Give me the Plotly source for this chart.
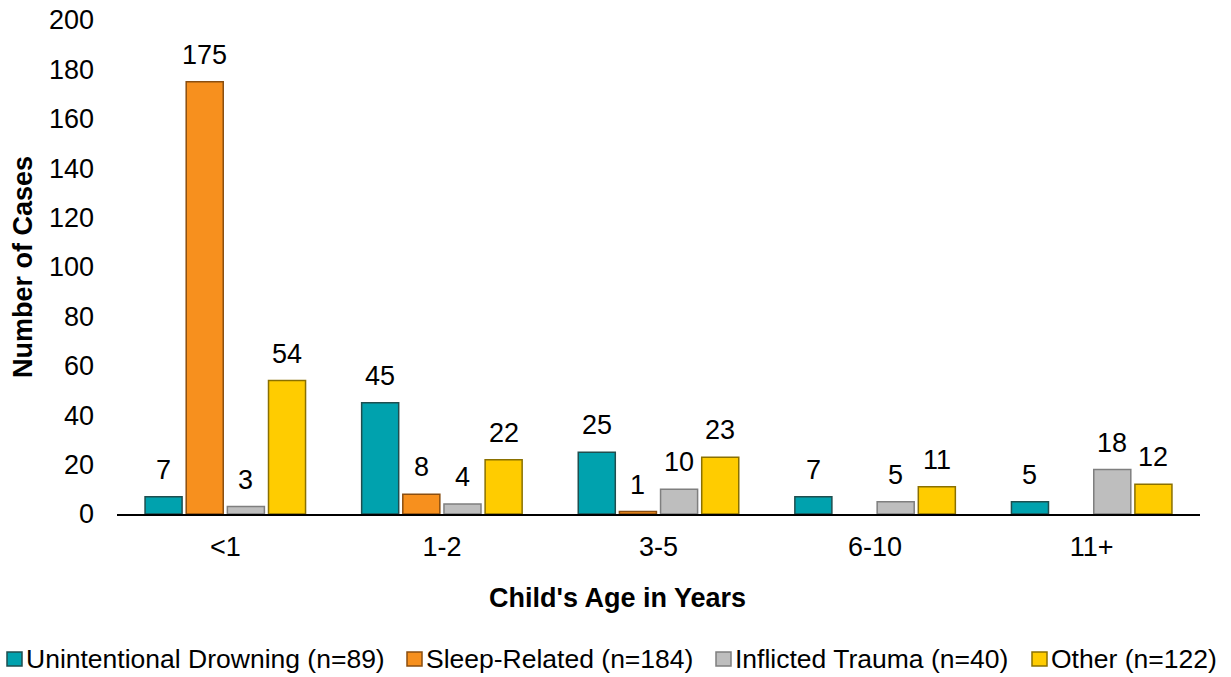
import plotly.graph_objects as go

ages = ["<1", "1-2", "3-5", "6-10", "11+"]
drowning = [7, 45, 25, 7, 5]
sleep = [175, 8, 1, None, None]
trauma = [3, 4, 10, 5, 18]
other = [54, 22, 23, 11, 12]

series = [
    ("Unintentional Drowning (n=89)", drowning, "#00A2AE", "#1F4E4F"),
    ("Sleep-Related (n=184)", sleep, "#F7901E", "#8A4E10"),
    ("Inflicted Trauma (n=40)", trauma, "#BEBEBE", "#7F7F7F"),
    ("Other (n=122)", other, "#FFCC00", "#8A7000"),
]

font = "Liberation Sans, Arial, sans-serif"
fs = 27
bargap = 0.24

# plot area in pixels (for placing the hand-made legend)
L, R, T, B = 117, 1200, 20, 514
W, H = R - L, B - T
slot = W / len(ages) * (1 - bargap) / len(series)


def px(x):
    return (x - L) / W


def py(y):
    return (B - y) / H


fig = go.Figure()
annotations = []
for i, (name, vals, color, edge) in enumerate(series):
    fig.add_trace(go.Bar(
        x=ages, y=vals, name=name,
        marker=dict(color=color, line=dict(color=edge, width=1.5)),
        cliponaxis=False,
        showlegend=False,
    ))
    # value labels sit a little higher above the bars than plotly's own text
    for a, v in zip(ages, vals):
        if v is None:
            continue
        annotations.append(dict(
            x=a, y=v, xref="x", yref="y", text=str(v),
            xshift=(i - 1.5) * slot, yshift=10,
            xanchor="center", yanchor="bottom", showarrow=False,
            font=dict(size=fs),
        ))

# legend drawn by hand so it stays on one row like the original
legend_x = [7, 407, 716, 1032]
shapes = []
for (name, _, color, edge), lx in zip(series, legend_x):
    shapes.append(dict(
        type="rect", xref="paper", yref="paper",
        x0=px(lx), x1=px(lx + 15), y0=py(652), y1=py(666),
        fillcolor=color, line=dict(color=edge, width=1.5),
    ))
    annotations.append(dict(
        text=name, xref="paper", yref="paper", x=px(lx + 17), y=py(659),
        xanchor="left", yanchor="middle", showarrow=False,
        font=dict(size=26.5),
    ))

annotations.append(dict(
    text="<b>Child's Age in Years</b>", xref="paper", yref="paper",
    x=px(617), y=py(598), xanchor="center", yanchor="middle",
    showarrow=False, font=dict(size=fs),
))

fig.update_layout(
    barmode="group",
    bargap=bargap,
    bargroupgap=0.1,
    width=1231, height=677,
    margin=dict(l=L, r=1231 - R, t=T, b=677 - B),
    plot_bgcolor="white",
    paper_bgcolor="white",
    font=dict(family=font, size=fs, color="#000000"),
    showlegend=False,
    shapes=shapes,
    annotations=annotations,
)
fig.update_xaxes(
    showline=True, linecolor="#000000", linewidth=2,
    ticks="", tickfont=dict(size=fs), automargin=False,
    ticklabelstandoff=8,
)
fig.update_yaxes(
    range=[0, 200], dtick=20, showgrid=False, zeroline=False,
    showline=False, ticks="", tickfont=dict(size=fs), automargin=False,
    ticklabelstandoff=22,
    title=dict(text="<b>Number of Cases</b>", font=dict(size=fs), standoff=8),
)

# drop the browser's default 8px page margin so the figure sits at (0, 0)
fig.write_html("out.html", config={"displayModeBar": False},
               post_script="document.body.style.margin='0';")
